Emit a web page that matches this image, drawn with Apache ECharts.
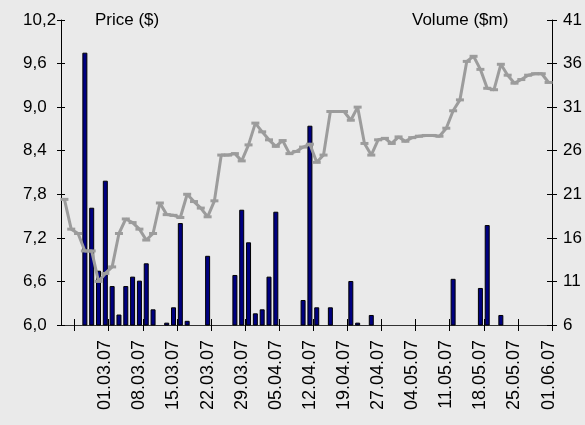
<!DOCTYPE html>
<html><head><meta charset="utf-8">
<script src="https://cdn.jsdelivr.net/npm/echarts@6/dist/echarts.min.js"></script>
<style>html,body{margin:0;padding:0;background:#EAEAEA}#c{width:585px;height:425px}</style>
</head><body><div id="c"></div>
<script>
const dates = ['21.02.07','22.02.07','23.02.07','26.02.07','27.02.07','28.02.07',
  '01.03.07','02.03.07','05.03.07','06.03.07','07.03.07','08.03.07','09.03.07','12.03.07','13.03.07','14.03.07',
  '15.03.07','16.03.07','19.03.07','20.03.07','21.03.07','22.03.07','23.03.07','26.03.07','27.03.07','28.03.07',
  '29.03.07','30.03.07','02.04.07','03.04.07','04.04.07','05.04.07','06.04.07','09.04.07','10.04.07','11.04.07',
  '12.04.07','13.04.07','16.04.07','17.04.07','18.04.07','19.04.07','20.04.07','23.04.07','24.04.07','26.04.07',
  '27.04.07','30.04.07','01.05.07','02.05.07','03.05.07','04.05.07','07.05.07','08.05.07','09.05.07','10.05.07',
  '11.05.07','14.05.07','15.05.07','16.05.07','17.05.07','18.05.07','21.05.07','22.05.07','23.05.07','24.05.07',
  '25.05.07','28.05.07','29.05.07','30.05.07','31.05.07','01.06.07'];

const price = [7.73,7.32,7.26,7.02,7.02,6.60,6.71,6.80,7.26,7.46,
  7.41,7.32,7.17,7.26,7.68,7.52,7.51,7.48,7.80,7.70,
  7.61,7.49,7.71,8.34,8.34,8.36,8.26,8.48,8.78,8.66,
  8.55,8.46,8.54,8.36,8.39,8.45,8.49,8.24,8.34,8.94,
  8.94,8.94,8.82,9.00,8.50,8.34,8.55,8.57,8.50,8.59,
  8.53,8.58,8.60,8.61,8.61,8.60,8.71,8.95,9.10,9.63,
  9.70,9.52,9.26,9.24,9.59,9.44,9.33,9.38,9.44,9.46,
  9.46,9.34];

const volume = [null,null,null,37.25,19.46,12.23,22.56,10.47,7.2,10.47,
  11.55,11.09,13.08,7.8,null,6.27,8.03,17.7,6.48,null,
  null,13.94,null,null,null,11.74,19.23,15.49,7.34,7.8,
  11.55,19.0,null,null,null,8.87,28.87,8.03,null,8.03,
  null,null,11.05,6.27,null,7.15,null,null,null,null,
  null,null,null,null,null,null,null,11.3,null,null,
  null,10.25,17.47,null,7.15,null,null,null,null,null,
  null,null];

const priceTicks = [6.0,6.6,7.2,7.8,8.4,9.0,9.6,10.2];
const volumeTicks = [6,11,16,21,26,31,36,41];

const FONT = 'Liberation Sans';
const labelIdx = (i) => i >= 6 && (i - 6) % 5 === 0;
const tickIdx = (i) => i >= 2 && (i - 2) % 5 === 0;
const fmtPrice = (v) => v.toFixed(1).replace('.', ',');

const chart = echarts.init(document.getElementById('c'), null, {renderer: 'canvas'});
const axisLineStyle = {color: '#000', width: 1};
chart.setOption({
  backgroundColor: '#EAEAEA',
  animation: false,
  title: [
    {text: 'Price ($)', left: 95, top: 12, padding: 0,
     textStyle: {fontFamily: FONT, fontSize: 17, fontWeight: 'normal', color: '#000'}},
    {text: 'Volume ($m)', left: 412, top: 12, padding: 0,
     textStyle: {fontFamily: FONT, fontSize: 17, fontWeight: 'normal', color: '#000'}}
  ],
  grid: {left: 61, right: 33, top: 20, bottom: 100, containLabel: false},
  xAxis: [
    {type: 'category', data: dates, position: 'bottom', boundaryGap: true,
     axisLine: {show: true, onZero: false, lineStyle: {color: '#333', width: 1}},
     axisTick: {show: true, interval: tickIdx, length: 6, lineStyle: {color: '#000'}},
     axisLabel: {show: true, interval: labelIdx, rotate: 90, margin: 15,
       fontFamily: FONT, fontSize: 18, color: '#000'},
     splitLine: {show: false}},
    {type: 'category', data: dates, position: 'bottom', boundaryGap: true,
     axisLine: {show: false, onZero: false},
     axisTick: {show: true, inside: true, interval: tickIdx, length: 6, lineStyle: {color: '#000'}},
     axisLabel: {show: false}, splitLine: {show: false}}
  ],
  yAxis: [
    {type: 'value', position: 'left', min: 6, max: 10.2,
     axisLine: {show: true, lineStyle: axisLineStyle},
     axisTick: {show: true, length: 4, customValues: priceTicks, lineStyle: {color: '#000'}},
     axisLabel: {show: true, customValues: priceTicks, formatter: fmtPrice, align: 'left', margin: 38,
       fontFamily: FONT, fontSize: 17, color: '#000'},
     splitLine: {show: false}},
    {type: 'value', position: 'right', min: 6, max: 41,
     axisLine: {show: true, lineStyle: axisLineStyle},
     axisTick: {show: true, length: 5, customValues: volumeTicks, lineStyle: {color: '#000'}},
     axisLabel: {show: true, customValues: volumeTicks, margin: 11,
       fontFamily: FONT, fontSize: 17, color: '#000'},
     splitLine: {show: false}},
    {type: 'value', position: 'left', min: 6, max: 10.2,
     axisLine: {show: false},
     axisTick: {show: true, inside: true, length: 4, customValues: priceTicks, lineStyle: {color: '#000'}},
     axisLabel: {show: false}, splitLine: {show: false}},
    {type: 'value', position: 'right', min: 6, max: 41,
     axisLine: {show: false},
     axisTick: {show: true, inside: true, length: 5, customValues: volumeTicks, lineStyle: {color: '#000'}},
     axisLabel: {show: false}, splitLine: {show: false}}
  ],
  series: [
    {type: 'bar', name: 'Volume ($m)', xAxisIndex: 0, yAxisIndex: 1, data: volume,
     barWidth: 5, clip: true,
     itemStyle: {color: '#000080', borderColor: '#000', borderWidth: 1}},
    {type: 'line', name: 'Price ($)', xAxisIndex: 0, yAxisIndex: 0, data: price,
     symbol: 'rect', symbolSize: [8, 3], showAllSymbol: true,
     lineStyle: {color: '#9C9C9C', width: 3},
     itemStyle: {color: '#9C9C9C'}}
  ]
});
</script></body></html>
